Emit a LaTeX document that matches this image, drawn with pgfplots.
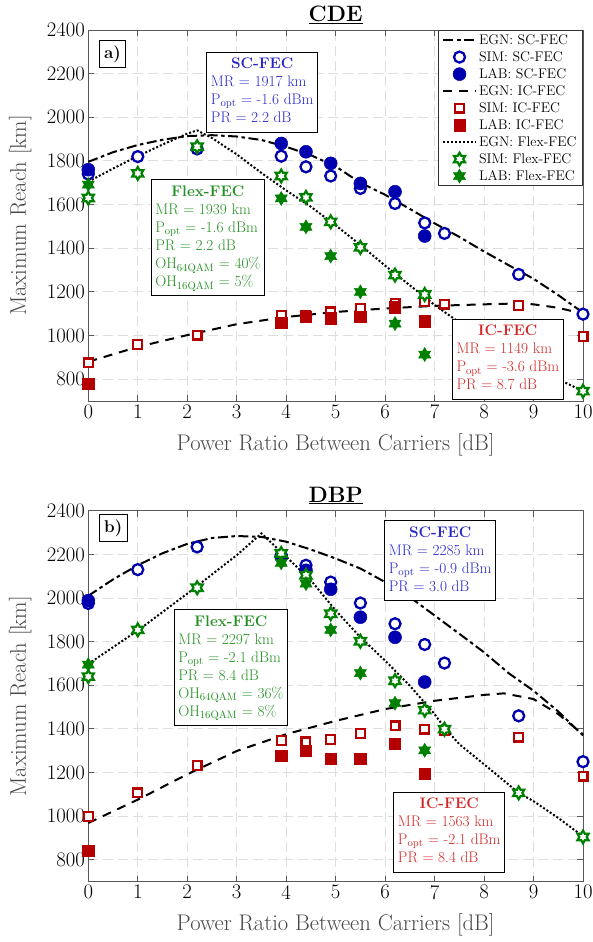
\documentclass[border=0pt]{standalone}
\usepackage{fontspec}
\usepackage{pgfplots}
\pgfplotsset{compat=1.18}
\definecolor{scblue}{RGB}{0,0,175}
\definecolor{sctext}{RGB}{40,40,200}
\definecolor{icred}{RGB}{180,0,0}
\definecolor{ictext}{RGB}{210,40,40}
\definecolor{fxgreen}{RGB}{0,128,0}
\definecolor{fxtext}{RGB}{35,145,35}
\pgfdeclareplotmark{hexagram}{%
  \pgfmathsetlengthmacro\hro{\pgfplotmarksize}%
  \pgfmathsetlengthmacro\hri{0.57735*\pgfplotmarksize}%
  \pgfpathmoveto{\pgfpointpolar{90}{\hro}}%
  \pgfpathlineto{\pgfpointpolar{120}{\hri}}%
  \pgfpathlineto{\pgfpointpolar{150}{\hro}}%
  \pgfpathlineto{\pgfpointpolar{180}{\hri}}%
  \pgfpathlineto{\pgfpointpolar{210}{\hro}}%
  \pgfpathlineto{\pgfpointpolar{240}{\hri}}%
  \pgfpathlineto{\pgfpointpolar{270}{\hro}}%
  \pgfpathlineto{\pgfpointpolar{300}{\hri}}%
  \pgfpathlineto{\pgfpointpolar{330}{\hro}}%
  \pgfpathlineto{\pgfpointpolar{0}{\hri}}%
  \pgfpathlineto{\pgfpointpolar{30}{\hro}}%
  \pgfpathlineto{\pgfpointpolar{60}{\hri}}%
  \pgfpathclose
  \pgfusepathqfillstroke}
\newcommand\tickfont{\fontsize{20.7}{24}\selectfont}
\newcommand\labfont{\fontsize{22.6}{26}\selectfont}
\newcommand\boxfont{\fontsize{15.3}{18}\selectfont}
\tikzset{
  infobox/.style={draw=black, fill=white, line width=0.9pt, inner sep=4pt, font=\boxfont, anchor=center},
  tagbox/.style={draw=black, fill=white, line width=0.9pt, inner sep=5pt, font=\fontsize{17}{20}\selectfont\bfseries, anchor=center},
}
\pgfplotsset{
  myaxis/.style={
    width=494.7pt, height=371pt, scale only axis,
    xmin=0, xmax=10, ymin=700, ymax=2400,
    xtick={0,1,...,10}, ytick={800,1000,...,2400},
    tick align=inside, xtick pos=both, ytick pos=both,
    major tick length=6pt,
    grid=major,
    major grid style={black!13, line width=0.9pt, dash pattern=on 10pt off 5pt},
    axis line style={black!65, line width=0.9pt},
    every tick/.style={black!65, line width=0.9pt},
    tick label style={font=\tickfont, text=black},
    /pgf/number format/assume math mode=true,
    /pgf/number format/set thousands separator={},
    xlabel={Power Ratio Between Carriers [dB]},
    ylabel={Maximum Reach [km]},
    label style={font=\labfont, text=black!72},
    xlabel style={at={(axis description cs:0.5,-0.117)}, anchor=center},
    ylabel style={at={(axis description cs:-0.1375,0.5)}, anchor=center},
    every axis title/.style={at={(axis description cs:0.5,1)}, anchor=base, yshift=8.5pt, font=\fontsize{22.3}{26}\selectfont},
    clip=false,
    legend image code/.code={\draw[mark repeat=2,mark phase=2,##1] plot coordinates {(0pt,0pt) (16.5pt,0pt) (33pt,0pt)};},
  },
  egnSC/.style={black, line width=2pt, dash pattern=on 10pt off 3.5pt on 3.5pt off 3.5pt, mark=none},
  egnIC/.style={black, line width=2pt, dash pattern=on 9pt off 7pt, mark=none},
  egnFX/.style={black, line width=2pt, dash pattern=on 2pt off 2pt, mark=none},
  simSC/.style={only marks, mark=*, mark size=5.5pt, mark options={draw=scblue, fill=white, line width=2.3pt, solid}},
  labSC/.style={only marks, mark=*, mark size=6.5pt, mark options={draw=scblue, fill=scblue, line width=0.5pt, solid}},
  simIC/.style={only marks, mark=square*, mark size=4.4pt, mark options={draw=icred, fill=white, line width=2.2pt, solid}},
  labIC/.style={only marks, mark=square*, mark size=5.7pt, mark options={draw=icred, fill=icred, line width=0.5pt, solid}},
  simFX/.style={only marks, mark=hexagram, mark size=6.4pt, mark options={draw=fxgreen, fill=white, line width=2.2pt, solid}},
  labFX/.style={only marks, mark=hexagram, mark size=7pt, mark options={draw=fxgreen, fill=fxgreen, line width=0.5pt, solid}},
}
\begin{document}
\begin{tikzpicture}
\path[use as bounding box] (-88.3pt,30pt) rectangle (504.7pt,-912pt);
% ---------------- CDE ----------------
\begin{axis}[myaxis, at={(0pt,0pt)}, anchor=north west,
  title={\underline{\textbf{CDE}}},
  legend style={at={(1,1)}, anchor=north east, draw=black!80, line width=0.9pt, fill=white,
    font=\fontsize{14}{17}\selectfont, cells={anchor=west}, row sep=1.6pt,
    inner xsep=4pt, inner ysep=2pt},
]
\addplot[egnSC] coordinates {(0,1796) (0.5,1840) (1,1873) (1.5,1897) (2,1914) (2.5,1918) (3,1912) (3.5,1896) (4,1865) (4.5,1826) (5,1775) (5.5,1700) (6,1645) (6.5,1580) (7,1514) (7.5,1452) (8,1385) (8.5,1322) (9,1260) (9.5,1185) (10,1105)};
\addlegendentry{EGN: SC-FEC}
\addplot[simSC] coordinates {(0,1740) (1,1820) (2.2,1855) (3.9,1822) (4.4,1773) (4.9,1731) (5.5,1674) (6.2,1605) (6.8,1516) (7.2,1468) (8.7,1280) (10,1098)};
\addlegendentry{SIM: SC-FEC}
\addplot[labSC] coordinates {(0,1760) (3.9,1880) (4.4,1842) (4.9,1789) (5.5,1697) (6.2,1659) (6.8,1456)};
\addlegendentry{LAB: SC-FEC}
\addplot[egnIC] coordinates {(0,880) (1,948) (2,1002) (3,1052) (4,1085) (5,1108) (6,1124) (7,1136) (8,1143) (8.7,1147) (9,1143) (9.5,1127) (10,1100)};
\addlegendentry{EGN: IC-FEC}
\addplot[simIC] coordinates {(0,875) (1,960) (2.2,1002) (3.9,1093) (4.4,1090) (4.9,1108) (5.5,1124) (6.2,1148) (6.8,1154) (7.2,1144) (8.7,1137) (10,996)};
\addlegendentry{SIM: IC-FEC}
\addplot[labIC] coordinates {(0,780) (3.9,1058) (4.4,1085) (4.9,1080) (5.5,1087) (6.2,1130) (6.8,1066)};
\addlegendentry{LAB: IC-FEC}
\addplot[egnFX] coordinates {(0,1705) (0.5,1765) (1,1822) (1.5,1875) (2,1925) (2.2,1940) (2.5,1905) (3,1830) (3.5,1745) (4,1665) (4.5,1590) (5,1505) (5.5,1415) (6,1320) (6.5,1230) (7,1140) (7.5,1060) (8,985) (8.5,915) (9,855) (9.5,800) (10,745)};
\addlegendentry{EGN: Flex-FEC}
\addplot[simFX] coordinates {(0,1630) (1,1743) (2.2,1865) (3.9,1731) (4.4,1633) (4.9,1521) (5.5,1404) (6.2,1277) (6.8,1188) (10,745)};
\addlegendentry{SIM: Flex-FEC}
\addplot[labFX] coordinates {(0,1692) (3.9,1628) (4.4,1498) (4.9,1364) (5.5,1200) (6.2,1055) (6.8,913)};
\addlegendentry{LAB: Flex-FEC}
\node[tagbox] at (axis cs:0.489,2289) {a)};
\node[infobox, text=sctext] at (axis cs:3.515,2115) {\begin{tabular}{@{}l@{}}\multicolumn{1}{@{}c@{}}{\textbf{SC-FEC}}\\MR = 1917 km\\P\textsubscript{opt} = -1.6 dBm\\PR = 2.2 dB\end{tabular}};
\node[infobox, text=fxtext] at (axis cs:2.416,1448) {\begin{tabular}{@{}l@{}}\multicolumn{1}{@{}c@{}}{\textbf{Flex-FEC}}\\MR = 1939 km\\P\textsubscript{opt} = -1.6 dBm\\PR = 2.2 dB\\OH\textsubscript{64QAM} = 40\%\\OH\textsubscript{16QAM} = 5\%\end{tabular}};
\node[infobox, text=ictext] at (axis cs:8.48,891) {\begin{tabular}{@{}l@{}}\multicolumn{1}{@{}c@{}}{\textbf{IC-FEC}}\\MR = 1149 km\\P\textsubscript{opt} = -3.6 dBm\\PR = 8.7 dB\end{tabular}};
\end{axis}
% ---------------- DBP ----------------
\begin{axis}[myaxis, at={(0pt,-480.7pt)}, anchor=north west,
  title={\underline{\textbf{DBP}}},
]
\addplot[egnSC] coordinates {(0,2010) (0.5,2085) (1,2150) (1.5,2205) (2,2248) (2.5,2275) (3,2284) (3.5,2280) (4,2258) (4.5,2222) (5,2181) (5.5,2135) (6,2073) (6.5,2004) (7,1920) (7.5,1836) (8,1751) (8.5,1655) (9,1575) (9.5,1480) (10,1370)};
\addplot[simSC] coordinates {(0,1975) (1,2130) (2.2,2234) (3.9,2195) (4.4,2150) (4.9,2073) (5.5,1977) (6.2,1882) (6.8,1787) (7.2,1702) (8.7,1460) (10,1250)};
\addplot[labSC] coordinates {(0,1988) (3.9,2190) (4.4,2127) (4.9,2040) (5.5,1912) (6.2,1820) (6.8,1615)};
\addplot[egnIC] coordinates {(0,969) (1,1076) (2,1192) (3,1299) (4,1376) (5,1437) (6,1491) (7,1529) (8,1556) (8.4,1563) (9,1537) (9.5,1468) (10,1375)};
\addplot[simIC] coordinates {(0,1000) (1,1107) (2.2,1233) (3.9,1348) (4.4,1341) (4.9,1352) (5.5,1378) (6.2,1414) (6.8,1399) (7.2,1393) (8.7,1363) (10,1184)};
\addplot[labIC] coordinates {(0,843) (3.9,1276) (4.4,1299) (4.9,1263) (5.5,1263) (6.2,1332) (6.8,1196)};
\addplot[egnFX] coordinates {(0,1698) (1,1851) (2,2020) (3,2196) (3.5,2296) (4,2189) (4.5,2081) (5,1943) (5.5,1820) (6,1713) (6.5,1598) (7,1468) (7.2,1406) (7.5,1330) (8,1238) (8.7,1107) (9,1069) (9.5,992) (10,908)};
\addplot[simFX] coordinates {(0,1640) (1,1854) (2.2,2047) (3.9,2204) (4.4,2104) (4.9,1928) (5.5,1802) (6.2,1621) (6.8,1486) (7.2,1399) (8.7,1107) (10,905)};
\addplot[labFX] coordinates {(0,1695) (3.9,2161) (4.4,2066) (4.9,1854) (5.5,1656) (6.2,1518) (6.8,1302)};
\node[tagbox] at (axis cs:0.505,2319) {b)};
\node[infobox, text=sctext] at (axis cs:7.113,2172) {\begin{tabular}{@{}l@{}}\multicolumn{1}{@{}c@{}}{\textbf{SC-FEC}}\\MR = 2285 km\\P\textsubscript{opt} = -0.9 dBm\\PR = 3.0 dB\end{tabular}};
\node[infobox, text=fxtext] at (axis cs:2.881,1681) {\begin{tabular}{@{}l@{}}\multicolumn{1}{@{}c@{}}{\textbf{Flex-FEC}}\\MR = 2297 km\\P\textsubscript{opt} = -2.1 dBm\\PR = 8.4 dB\\OH\textsubscript{64QAM} = 36\%\\OH\textsubscript{16QAM} = 8\%\end{tabular}};
\node[infobox, text=ictext] at (axis cs:7.295,928) {\begin{tabular}{@{}l@{}}\multicolumn{1}{@{}c@{}}{\textbf{IC-FEC}}\\MR = 1563 km\\P\textsubscript{opt} = -2.1 dBm\\PR = 8.4 dB\end{tabular}};
\end{axis}
\end{tikzpicture}
\end{document}
